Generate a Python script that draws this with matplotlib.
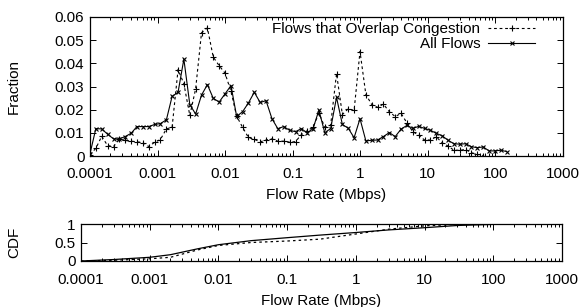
import matplotlib

matplotlib.use('Agg')
import matplotlib.pyplot as plt
from matplotlib.ticker import FuncFormatter, FixedLocator, LogLocator, NullFormatter

plt.rcParams['font.family'] = ['Liberation Sans', 'DejaVu Sans']
plt.rcParams['font.size'] = 11

# flow rate bins (Mbps)
rate = [0.0001, 0.000122, 0.000149, 0.000182, 0.000223, 0.000272, 0.000332, 0.000406, 0.000495, 0.000605,
        0.000739, 0.000903, 0.00110, 0.00135, 0.00164, 0.00201, 0.00245, 0.00300, 0.00366, 0.00447,
        0.00546, 0.00667, 0.00815, 0.00995, 0.0122, 0.0148, 0.0181, 0.0221, 0.0270, 0.0330,
        0.0403, 0.0493, 0.0602, 0.0735, 0.0898, 0.110, 0.134, 0.164, 0.200, 0.244,
        0.298, 0.364, 0.445, 0.543, 0.663, 0.810, 0.990, 1.21, 1.48, 1.80,
        2.20, 2.69, 3.29, 4.01, 4.90, 5.99, 7.31, 8.93, 10.9, 13.3,
        16.3, 19.9, 24.3, 29.7, 36.2, 44.2, 54.0, 66.0, 80.6, 98.5,
        120, 147]

all_flows = [0.0010, 0.0118, 0.0117, 0.0094, 0.0074, 0.0074, 0.0084, 0.0098, 0.0127, 0.0127,
             0.0127, 0.0136, 0.0140, 0.0156, 0.0257, 0.0275, 0.0418, 0.0222, 0.0181, 0.0263,
             0.0308, 0.0249, 0.0233, 0.0268, 0.0304, 0.0171, 0.0191, 0.0229, 0.0275, 0.0231,
             0.0239, 0.0161, 0.0118, 0.0127, 0.0111, 0.0105, 0.0118, 0.0100, 0.0118, 0.0198,
             0.0101, 0.0118, 0.0253, 0.0136, 0.0120, 0.0079, 0.0161, 0.0065, 0.0068, 0.0069,
             0.0084, 0.0101, 0.0084, 0.0116, 0.0132, 0.0119, 0.0128, 0.0119, 0.0111, 0.0098,
             0.0087, 0.0068, 0.0053, 0.0051, 0.0053, 0.0040, 0.0036, 0.0039, 0.0022, 0.0022,
             0.0025, 0.0019]

overlap = [0.0006, 0.0033, 0.0085, 0.0045, 0.0041, 0.0073, 0.0067, 0.0064, 0.0061, 0.0058,
           0.0041, 0.0059, 0.0071, 0.0117, 0.0124, 0.0373, 0.0312, 0.0175, 0.0290, 0.0532,
           0.0553, 0.0427, 0.0390, 0.0358, 0.0279, 0.0172, 0.0124, 0.0080, 0.0072, 0.0061,
           0.0069, 0.0074, 0.0064, 0.0064, 0.0060, 0.0062, 0.0092, 0.0109, 0.0124, 0.0185,
           0.0125, 0.0133, 0.0356, 0.0179, 0.0204, 0.0197, 0.0451, 0.0265, 0.0222, 0.0210,
           0.0224, 0.0191, 0.0170, 0.0184, 0.0143, 0.0105, 0.0090, 0.0069, 0.0069, 0.0083,
           0.0057, 0.0043, 0.0025, 0.0025, 0.0028, 0.0014, 0.0007, 0.0002]

# CDF read at a few rates
cdf_rate = [0.0001, 0.0003, 0.001, 0.002, 0.005, 0.01, 0.03, 0.1, 0.3, 1, 3, 10, 30, 100, 150]
cdf_all = [0, 0.04, 0.10, 0.17, 0.33, 0.44, 0.55, 0.63, 0.70, 0.77, 0.84, 0.90, 0.96, 0.99, 1.0]
cdf_overlap = [0, 0.02, 0.06, 0.10, 0.30, 0.42, 0.50, 0.54, 0.59, 0.73, 0.86, 0.95, 0.99, 1.0, 1.0]

W, H = 583, 307
fig = plt.figure(figsize=(W / 100, H / 100), dpi=100)

ax1 = fig.add_axes([90 / W, 1 - 156 / H, 473 / W, 139 / H])
ax2 = fig.add_axes([81 / W, 1 - 261 / H, 481 / W, 37 / H])

dash = (0, (2.5, 2.5))
ax1.plot(rate[:len(overlap)], overlap, color='black', lw=0.8, linestyle=dash,
         marker='+', ms=4.5, mew=0.8, label='Flows that Overlap Congestion')
ax1.plot(rate, all_flows, color='black', lw=0.8, marker='x', ms=3.5, mew=0.8,
         label='All Flows')

ax2.plot(cdf_rate, cdf_all, color='black', lw=0.9)
ax2.plot(cdf_rate, cdf_overlap, color='black', lw=0.9, linestyle=(0, (2, 2.5)))

fmt = FuncFormatter(lambda v, p: '%g' % v)
for ax in (ax1, ax2):
    ax.set_xscale('log')
    ax.set_xlim(0.0001, 1000)
    ax.xaxis.set_major_locator(FixedLocator([1e-4, 1e-3, 1e-2, 1e-1, 1, 10, 100, 1000]))
    ax.xaxis.set_minor_locator(LogLocator(base=10, subs=range(2, 10), numticks=20))
    ax.xaxis.set_minor_formatter(NullFormatter())
    ax.xaxis.set_major_formatter(fmt)
    ax.yaxis.set_major_formatter(fmt)
    ax.tick_params(which='both', direction='in', top=True, right=True, width=0.7)
    ax.tick_params(which='major', length=4.5, pad=4)
    ax.tick_params(which='minor', length=2.5)
    for s in ax.spines.values():
        s.set_linewidth(0.9)

ax1.tick_params(axis='x', which='major', pad=8)
ax2.tick_params(axis='x', which='major', pad=9)

ax1.set_ylim(0, 0.06)
ax1.set_yticks([0, 0.01, 0.02, 0.03, 0.04, 0.05, 0.06])
ax1.set_xlabel('Flow Rate (Mbps)')
ax1.set_ylabel('Fraction')
ax1.xaxis.set_label_coords(0.5, -0.23)
ax1.yaxis.set_label_coords(-0.146, 0.5)

ax2.set_ylim(0, 1)
ax2.set_yticks([0, 0.5, 1])
ax2.set_xlabel('Flow Rate (Mbps)')
ax2.set_ylabel('CDF')
ax2.xaxis.set_label_coords(0.5, -0.9)
ax2.yaxis.set_label_coords(-0.125, 0.5)

ax1.legend(loc='upper right', bbox_to_anchor=(0.964, 1.04), frameon=False,
           markerfirst=False, handlelength=3.1, handletextpad=0.5,
           labelspacing=0.05, borderpad=0.2)

fig.savefig('out.png', dpi=100)
